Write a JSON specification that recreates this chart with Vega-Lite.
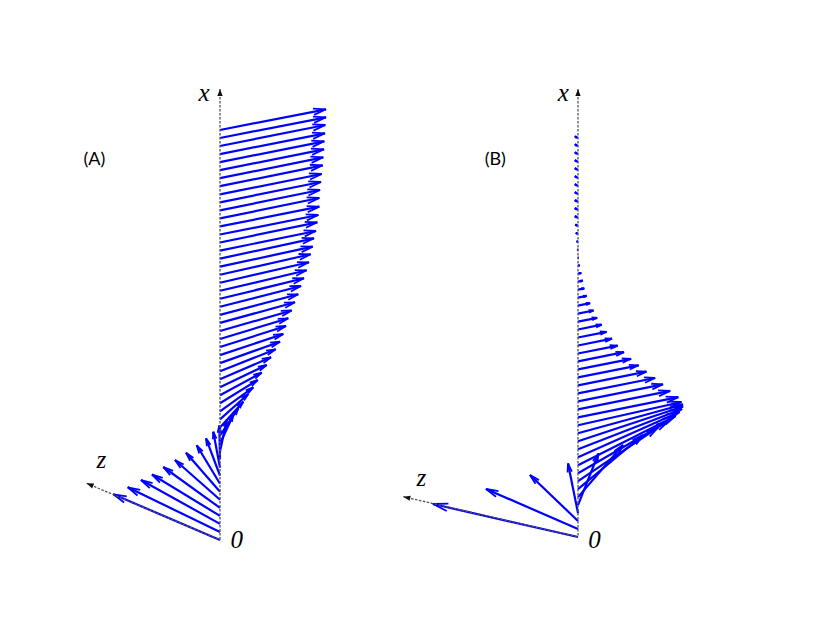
{
  "$schema": "https://vega.github.io/schema/vega-lite/v6.json",
  "background": "white",
  "padding": 0,
  "spacing": 0,
  "bounds": "flush",
  "config": {"view": {"stroke": null}},
  "datasets": {
    "arrows": [
      {"p":"A","v0":0,"h1":-106.7,"v1":45.7},
      {"p":"A","v0":8,"h1":-92.3,"v1":52.7},
      {"p":"A","v0":16.1,"h1":-79,"v1":60},
      {"p":"A","v0":24.1,"h1":-68,"v1":65.5},
      {"p":"A","v0":32.2,"h1":-56.7,"v1":73},
      {"p":"A","v0":40.2,"h1":-45,"v1":80},
      {"p":"A","v0":48.2,"h1":-34,"v1":87.3},
      {"p":"A","v0":56.3,"h1":-23.3,"v1":94.7},
      {"p":"A","v0":64.3,"h1":-14,"v1":101.7},
      {"p":"A","v0":72.4,"h1":-6.7,"v1":108.3},
      {"p":"A","v0":80.4,"h1":-0.7,"v1":114.5},
      {"p":"A","v0":88.4,"h1":6.7,"v1":120},
      {"p":"A","v0":96.5,"h1":13.3,"v1":125},
      {"p":"A","v0":104.5,"h1":18.3,"v1":131.7},
      {"p":"A","v0":112.6,"h1":23.3,"v1":138.3},
      {"p":"A","v0":120.6,"h1":28.3,"v1":146},
      {"p":"A","v0":128.6,"h1":33.3,"v1":152.7},
      {"p":"A","v0":136.7,"h1":37.7,"v1":160},
      {"p":"A","v0":144.7,"h1":41.7,"v1":167.3},
      {"p":"A","v0":152.8,"h1":46.7,"v1":175},
      {"p":"A","v0":160.8,"h1":51,"v1":182.7},
      {"p":"A","v0":168.8,"h1":55.7,"v1":190.7},
      {"p":"A","v0":176.9,"h1":60,"v1":198.3},
      {"p":"A","v0":184.9,"h1":63.3,"v1":206},
      {"p":"A","v0":193,"h1":66,"v1":214},
      {"p":"A","v0":201,"h1":68.3,"v1":221.7},
      {"p":"A","v0":209,"h1":71.7,"v1":229.5},
      {"p":"A","v0":217.1,"h1":75,"v1":237.7},
      {"p":"A","v0":225.1,"h1":78.3,"v1":245.7},
      {"p":"A","v0":233.2,"h1":81,"v1":254},
      {"p":"A","v0":241.2,"h1":84,"v1":261.7},
      {"p":"A","v0":249.2,"h1":86.7,"v1":269.7},
      {"p":"A","v0":257.3,"h1":89,"v1":277.7},
      {"p":"A","v0":265.3,"h1":90.7,"v1":285.7},
      {"p":"A","v0":273.4,"h1":92.7,"v1":293.3},
      {"p":"A","v0":281.4,"h1":94,"v1":301.7},
      {"p":"A","v0":289.4,"h1":96,"v1":309},
      {"p":"A","v0":297.5,"h1":97.3,"v1":317.7},
      {"p":"A","v0":305.5,"h1":98.3,"v1":325},
      {"p":"A","v0":313.6,"h1":99.3,"v1":333.3},
      {"p":"A","v0":321.6,"h1":99.3,"v1":342},
      {"p":"A","v0":329.6,"h1":100,"v1":350},
      {"p":"A","v0":337.7,"h1":101,"v1":358},
      {"p":"A","v0":345.7,"h1":101.7,"v1":366},
      {"p":"A","v0":353.8,"h1":102.7,"v1":374.7},
      {"p":"A","v0":361.8,"h1":103.3,"v1":382.7},
      {"p":"A","v0":369.8,"h1":104,"v1":390.7},
      {"p":"A","v0":377.9,"h1":104.3,"v1":398.7},
      {"p":"A","v0":385.9,"h1":105,"v1":406.7},
      {"p":"A","v0":394,"h1":105.3,"v1":415},
      {"p":"A","v0":402,"h1":106,"v1":422.7},
      {"p":"A","v0":410,"h1":106,"v1":430.7},
      {"p":"B","v0":0,"h1":-145,"v1":33},
      {"p":"B","v0":8,"h1":-92,"v1":48},
      {"p":"B","v0":16,"h1":-48,"v1":62},
      {"p":"B","v0":23.9,"h1":-10,"v1":73.5},
      {"p":"B","v0":31.9,"h1":20.5,"v1":83.5},
      {"p":"B","v0":39.9,"h1":45,"v1":92},
      {"p":"B","v0":47.9,"h1":65,"v1":102},
      {"p":"B","v0":55.9,"h1":80,"v1":109.5},
      {"p":"B","v0":63.8,"h1":90.5,"v1":116},
      {"p":"B","v0":71.8,"h1":97.5,"v1":121},
      {"p":"B","v0":79.8,"h1":101.5,"v1":125},
      {"p":"B","v0":87.8,"h1":104,"v1":128},
      {"p":"B","v0":95.8,"h1":105,"v1":130.5},
      {"p":"B","v0":103.7,"h1":105,"v1":132.5},
      {"p":"B","v0":111.7,"h1":103.5,"v1":135},
      {"p":"B","v0":119.7,"h1":100.3,"v1":139.8},
      {"p":"B","v0":127.7,"h1":92.2,"v1":146.1},
      {"p":"B","v0":135.7,"h1":85,"v1":152.7},
      {"p":"B","v0":143.6,"h1":77.1,"v1":159},
      {"p":"B","v0":151.6,"h1":68.4,"v1":165.3},
      {"p":"B","v0":159.6,"h1":60.7,"v1":171.7},
      {"p":"B","v0":167.6,"h1":53.1,"v1":178.2},
      {"p":"B","v0":175.6,"h1":46,"v1":184.8},
      {"p":"B","v0":183.5,"h1":39.7,"v1":191.4},
      {"p":"B","v0":191.5,"h1":34,"v1":198.3},
      {"p":"B","v0":199.5,"h1":28.6,"v1":205.2},
      {"p":"B","v0":207.5,"h1":23.8,"v1":212.3},
      {"p":"B","v0":215.4,"h1":19.2,"v1":219.2},
      {"p":"B","v0":223.4,"h1":15.6,"v1":226.5},
      {"p":"B","v0":231.4,"h1":12.1,"v1":233.8},
      {"p":"B","v0":239.4,"h1":8.7,"v1":241.1},
      {"p":"B","v0":247.3,"h1":6.3,"v1":248.6},
      {"p":"B","v0":255.3,"h1":4.8,"v1":256.3},
      {"p":"B","v0":263.3,"h1":3.3,"v1":264},
      {"p":"B","v0":271.3,"h1":1.8,"v1":271.7},
      {"p":"B","v0":279.3,"h1":0.6,"v1":279.4},
      {"p":"B","v0":287.2,"h1":-0.8,"v1":287.5},
      {"p":"B","v0":295.2,"h1":-1.5,"v1":295.7},
      {"p":"B","v0":303.2,"h1":-2.2,"v1":304},
      {"p":"B","v0":311.2,"h1":-2.8,"v1":312.3},
      {"p":"B","v0":319.2,"h1":-3.2,"v1":320.8},
      {"p":"B","v0":327.2,"h1":-3.2,"v1":328.8},
      {"p":"B","v0":335.2,"h1":-3.2,"v1":336.8},
      {"p":"B","v0":343.1,"h1":-3.2,"v1":344.7},
      {"p":"B","v0":351.1,"h1":-3.2,"v1":352.7},
      {"p":"B","v0":359.1,"h1":-3.2,"v1":360.7},
      {"p":"B","v0":367.1,"h1":-3.2,"v1":368.7},
      {"p":"B","v0":375.1,"h1":-3.2,"v1":376.7},
      {"p":"B","v0":383,"h1":-3.2,"v1":384.6},
      {"p":"B","v0":391,"h1":-3.2,"v1":392.6},
      {"p":"B","v0":399,"h1":-3.2,"v1":400.6}
    ],
    "axes": [
      {"p":"A","h1":0,"v1":451},
      {"p":"A","h1":-133.3,"v1":56.7},
      {"p":"B","h1":0,"v1":448},
      {"p":"B","h1":-174.7,"v1":40.3}
    ],
    "labels": [
      {"p":"A","t":"x","h":-16,"v":439.3,"k":"axis"},
      {"p":"A","t":"z","h":-118.7,"v":72.3,"k":"axis"},
      {"p":"A","t":"0","h":16.7,"v":-8.3,"k":"axis"},
      {"p":"A","t":"(A)","h":-125.7,"v":375,"k":"panel"},
      {"p":"B","t":"x","h":-14.7,"v":436.3,"k":"axis"},
      {"p":"B","t":"z","h":-156.7,"v":51.3,"k":"axis"},
      {"p":"B","t":"0","h":16.5,"v":-11.3,"k":"axis"},
      {"p":"B","t":"(B)","h":-82.7,"v":372,"k":"panel"}
    ]
  },
  "hconcat": [
    {
      "width": 380, "height": 623,
      "layer": [
        {
          "data": {"name": "arrows"},
          "transform": [{"filter": "datum.p === 'A'"}],
          "mark": {"type": "rule", "color": "#0000ff", "strokeWidth": 2.2},
          "encoding": {
            "x": {"field": "h1", "type": "quantitative", "scale": {"domain": [-220, 160], "nice": false, "zero": false}, "axis": null},
            "y": {"field": "v1", "type": "quantitative", "scale": {"domain": [-83, 540], "nice": false, "zero": false}, "axis": null},
            "x2": {"datum": 0},
            "y2": {"field": "v0"}
          }
        },
        {
          "data": {"name": "arrows"},
          "transform": [
            {"filter": "datum.p === 'A'"},
            {"calculate": "atan2(datum.v0 - datum.v1, datum.h1) * 180 / PI", "as": "ang"},
            {"calculate": "sqrt(datum.h1 * datum.h1 + (datum.v1 - datum.v0) * (datum.v1 - datum.v0))", "as": "len"}
          ],
          "mark": {"type": "point", "shape": "M-1,-0.25L0,0L-1,0.25", "filled": false, "stroke": "#0000ff", "strokeWidth": 1.8, "opacity": 1},
          "encoding": {
            "x": {"field": "h1", "type": "quantitative"},
            "y": {"field": "v1", "type": "quantitative"},
            "angle": {"field": "ang", "type": "quantitative", "scale": null},
            "size": {"field": "len", "type": "quantitative", "scale": {"domain": [0, 150], "range": [0, 900]}, "legend": null}
          }
        },
        {
          "data": {"name": "axes"},
          "transform": [{"filter": "datum.p === 'A'"}],
          "mark": {"type": "rule", "color": "#555555", "strokeWidth": 1.3, "strokeDash": [2.5, 1.5]},
          "encoding": {
            "x": {"field": "h1", "type": "quantitative"},
            "y": {"field": "v1", "type": "quantitative"},
            "x2": {"datum": 0},
            "y2": {"datum": 0}
          }
        },
        {
          "data": {"name": "axes"},
          "transform": [
            {"filter": "datum.p === 'A'"},
            {"calculate": "atan2(-datum.v1, datum.h1) * 180 / PI", "as": "ang"}
          ],
          "mark": {"type": "point", "shape": "M0,0L-1,-0.38L-1,0.38Z", "filled": true, "color": "#111111", "size": 196, "opacity": 1},
          "encoding": {
            "x": {"field": "h1", "type": "quantitative"},
            "y": {"field": "v1", "type": "quantitative"},
            "angle": {"field": "ang", "type": "quantitative", "scale": null}
          }
        },
        {
          "data": {"name": "labels"},
          "transform": [{"filter": "datum.p === 'A' && datum.k === 'axis'"}],
          "mark": {"type": "text", "font": "Liberation Serif", "fontStyle": "italic", "fontSize": 25, "align": "center", "baseline": "alphabetic", "color": "#000000"},
          "encoding": {
            "x": {"field": "h", "type": "quantitative"},
            "y": {"field": "v", "type": "quantitative"},
            "text": {"field": "t"}
          }
        },
        {
          "data": {"name": "labels"},
          "transform": [{"filter": "datum.p === 'A' && datum.k === 'panel'"}],
          "mark": {"type": "text", "font": "Lato", "fontSize": 18, "align": "center", "baseline": "alphabetic", "color": "#000000"},
          "encoding": {
            "x": {"field": "h", "type": "quantitative"},
            "y": {"field": "v", "type": "quantitative"},
            "text": {"field": "t"}
          }
        }
      ]
    },
    {
      "width": 450, "height": 623,
      "layer": [
        {
          "data": {"name": "arrows"},
          "transform": [{"filter": "datum.p === 'B'"}],
          "mark": {"type": "rule", "color": "#0000ff", "strokeWidth": 2.2},
          "encoding": {
            "x": {"field": "h1", "type": "quantitative", "scale": {"domain": [-198, 252], "nice": false, "zero": false}, "axis": null},
            "y": {"field": "v1", "type": "quantitative", "scale": {"domain": [-86, 537], "nice": false, "zero": false}, "axis": null},
            "x2": {"datum": 0},
            "y2": {"field": "v0"}
          }
        },
        {
          "data": {"name": "arrows"},
          "transform": [
            {"filter": "datum.p === 'B'"},
            {"calculate": "atan2(datum.v0 - datum.v1, datum.h1) * 180 / PI", "as": "ang"},
            {"calculate": "sqrt(datum.h1 * datum.h1 + (datum.v1 - datum.v0) * (datum.v1 - datum.v0))", "as": "len"}
          ],
          "mark": {"type": "point", "shape": "M-1,-0.25L0,0L-1,0.25", "filled": false, "stroke": "#0000ff", "strokeWidth": 1.8, "opacity": 1},
          "encoding": {
            "x": {"field": "h1", "type": "quantitative"},
            "y": {"field": "v1", "type": "quantitative"},
            "angle": {"field": "ang", "type": "quantitative", "scale": null},
            "size": {"field": "len", "type": "quantitative", "scale": {"domain": [0, 150], "range": [0, 900]}, "legend": null}
          }
        },
        {
          "data": {"name": "axes"},
          "transform": [{"filter": "datum.p === 'B'"}],
          "mark": {"type": "rule", "color": "#555555", "strokeWidth": 1.3, "strokeDash": [2.5, 1.5]},
          "encoding": {
            "x": {"field": "h1", "type": "quantitative"},
            "y": {"field": "v1", "type": "quantitative"},
            "x2": {"datum": 0},
            "y2": {"datum": 0}
          }
        },
        {
          "data": {"name": "axes"},
          "transform": [
            {"filter": "datum.p === 'B'"},
            {"calculate": "atan2(-datum.v1, datum.h1) * 180 / PI", "as": "ang"}
          ],
          "mark": {"type": "point", "shape": "M0,0L-1,-0.38L-1,0.38Z", "filled": true, "color": "#111111", "size": 196, "opacity": 1},
          "encoding": {
            "x": {"field": "h1", "type": "quantitative"},
            "y": {"field": "v1", "type": "quantitative"},
            "angle": {"field": "ang", "type": "quantitative", "scale": null}
          }
        },
        {
          "data": {"name": "labels"},
          "transform": [{"filter": "datum.p === 'B' && datum.k === 'axis'"}],
          "mark": {"type": "text", "font": "Liberation Serif", "fontStyle": "italic", "fontSize": 25, "align": "center", "baseline": "alphabetic", "color": "#000000"},
          "encoding": {
            "x": {"field": "h", "type": "quantitative"},
            "y": {"field": "v", "type": "quantitative"},
            "text": {"field": "t"}
          }
        },
        {
          "data": {"name": "labels"},
          "transform": [{"filter": "datum.p === 'B' && datum.k === 'panel'"}],
          "mark": {"type": "text", "font": "Lato", "fontSize": 18, "align": "center", "baseline": "alphabetic", "color": "#000000"},
          "encoding": {
            "x": {"field": "h", "type": "quantitative"},
            "y": {"field": "v", "type": "quantitative"},
            "text": {"field": "t"}
          }
        }
      ]
    }
  ]
}
